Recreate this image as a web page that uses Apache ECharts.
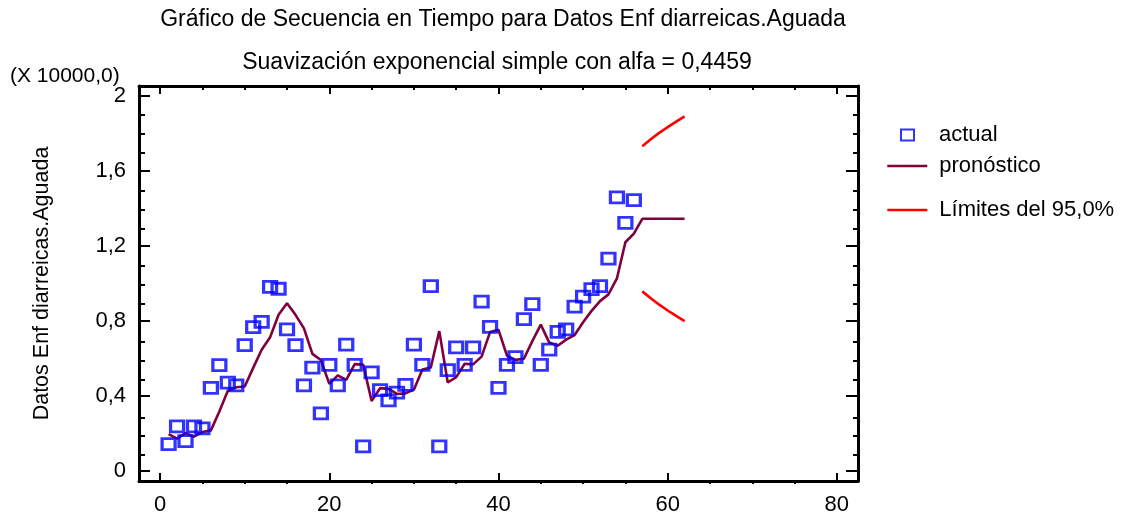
<!DOCTYPE html>
<html>
<head>
<meta charset="utf-8">
<script src="https://cdn.jsdelivr.net/npm/echarts@6/dist/echarts.min.js"></script>
<style>
  html, body { margin: 0; padding: 0; background: #ffffff; }
  #chart { width: 1123px; height: 516px; }
</style>
</head>
<body>
<div id="chart"></div>
<script>
// Time index of the observed series
const periods = [1,2,3,4,5,6,7,8,9,10,11,12,13,14,15,16,17,18,19,20,21,22,23,24,25,26,27,28,
  29,30,31,32,33,34,35,36,37,38,39,40,41,42,43,44,45,46,47,48,49,50,51,52,53,54,55,56];

// Observed values (units of 10000 cases)
const actual = [0.144,0.238,0.159,0.238,0.228,0.444,0.565,0.471,0.457,0.672,0.767,0.795,0.982,0.972,
  0.755,0.672,0.457,0.552,0.308,0.566,0.457,0.674,0.566,0.132,0.526,0.432,0.377,0.418,0.459,0.674,
  0.566,0.986,0.132,0.538,0.660,0.566,0.660,0.903,0.769,0.444,0.566,0.607,0.810,0.890,0.566,0.647,
  0.742,0.755,0.877,0.930,0.970,0.986,1.132,1.459,1.323,1.444];

// Smoothed / forecast line
const forecastPeriods = [1,2,3,4,5,6,7,8,9,10,11,12,13,14,15,16,17,18,19,20,21,22,23,24,25,26,27,28,
  29,30,31,32,33,34,35,36,37,38,39,40,41,42,43,44,45,46,47,48,49,50,51,52,53,54,55,56,57,58,59,60,61,62];
const forecast = [0.197,0.173,0.202,0.183,0.208,0.217,0.318,0.428,0.447,0.451,0.550,0.647,0.713,0.833,
  0.895,0.833,0.761,0.625,0.592,0.465,0.510,0.486,0.570,0.568,0.374,0.442,0.438,0.411,0.414,0.434,
  0.541,0.552,0.746,0.472,0.501,0.572,0.569,0.610,0.741,0.753,0.615,0.593,0.599,0.693,0.781,0.685,
  0.668,0.701,0.725,0.793,0.854,0.906,0.942,1.027,1.220,1.266,1.345,1.345,1.345,1.345,1.345,1.345];

// 95% limits for the forecast horizon
const limitPeriods = [57,58,59,60,61,62];
const upperLimit = [1.732,1.769,1.803,1.834,1.863,1.891];
const lowerLimit = [0.958,0.921,0.887,0.856,0.827,0.799];

// Axis ticks
const xMajorTicks = [0,20,40,60,80];
const xMinorTicks = [5,10,15,25,30,35,45,50,55,65,70,75];
const yMajorTicks = [0,0.4,0.8,1.2,1.6,2];
const yMinorTicks = [0.1,0.2,0.3,0.5,0.6,0.7,0.9,1.0,1.1,1.3,1.4,1.5,1.7,1.8,1.9];

const mainTitle = 'Gráfico de Secuencia en Tiempo para Datos Enf diarreicas.Aguada';
const subTitle = 'Suavización exponencial simple con alfa = 0,4459';
const scaleNote = '(X 10000,0)';
const yName = 'Datos Enf diarreicas.Aguada';

const FONT = "'Liberation Sans', Arial, Helvetica, sans-serif";
const X_RANGE = [-2.5, 82.5];
const Y_RANGE = [-0.053, 2.053];

const pair = (xs, ys) => xs.map((x, i) => [x, ys[i]]);
const commaNum = v => String(Math.round(v * 10) / 10).replace('.', ',');

function xAxisDef(gridIndex, position, ticks, tickLen, withLine, withLabels) {
  return {
    type: 'value', gridIndex, position, min: X_RANGE[0], max: X_RANGE[1],
    axisLine: { show: withLine, onZero: false, lineStyle: { color: '#000', width: 3 } },
    axisTick: { show: true, inside: true, length: tickLen, customValues: ticks,
      lineStyle: { color: '#000', width: 2 } },
    axisLabel: withLabels
      ? { show: true, customValues: ticks, margin: 13, color: '#000', fontSize: 22, fontFamily: FONT }
      : { show: false },
    splitLine: { show: false }
  };
}

function yAxisDef(gridIndex, position, ticks, tickLen, withLine, withLabels) {
  const ax = {
    type: 'value', gridIndex, position, min: Y_RANGE[0], max: Y_RANGE[1],
    axisLine: { show: withLine, onZero: false, lineStyle: { color: '#000', width: 3 } },
    axisTick: { show: true, inside: true, length: tickLen, customValues: ticks,
      lineStyle: { color: '#000', width: 2 } },
    axisLabel: withLabels
      ? { show: true, customValues: ticks, margin: 13, color: '#000', fontSize: 22,
          fontFamily: FONT, formatter: commaNum }
      : { show: false },
    splitLine: { show: false }
  };
  if (withLabels) {
    Object.assign(ax, {
      name: yName, nameLocation: 'middle', nameRotate: 90, nameGap: 86,
      nameTextStyle: { fontSize: 21.5, color: '#000', fontFamily: FONT }
    });
  }
  return ax;
}

const titleStyle = { fontSize: 23, fontWeight: 'normal', color: '#000', fontFamily: FONT };

const option = {
  animation: false,
  backgroundColor: '#ffffff',
  textStyle: { fontFamily: FONT },
  title: [
    { text: mainTitle, left: 503, top: 8, textAlign: 'center', padding: 0, textStyle: titleStyle },
    { text: subTitle, left: 497, top: 51, textAlign: 'center', padding: 0, textStyle: titleStyle },
    { text: scaleNote, left: 10, top: 66, padding: 0,
      textStyle: { fontSize: 21, fontWeight: 'normal', color: '#000', fontFamily: FONT } }
  ],
  legend: [
    {
      data: ['actual'], orient: 'vertical', left: 900, top: 124, padding: 0,
      itemWidth: 13, itemHeight: 11,
      textStyle: { fontSize: 22, color: '#000', fontFamily: FONT, padding: [0, 0, 0, 20] }
    },
    {
      data: ['pronóstico', 'Límites del 95,0%'], orient: 'vertical', left: 886, top: 155, padding: 0,
      itemWidth: 40, itemHeight: 14, itemGap: 22,
      itemStyle: { opacity: 0 },
      lineStyle: { width: 2.6 },
      textStyle: { fontSize: 22, color: '#000', fontFamily: FONT, padding: [0, 0, 0, 7] }
    }
  ],
  grid: [
    { left: 139, right: 265, top: 86, bottom: 32 },
    { left: 139, right: 265, top: 86, bottom: 32 }
  ],
  xAxis: [
    xAxisDef(0, 'bottom', xMajorTicks, 8, true, true),
    xAxisDef(0, 'top', xMajorTicks, 8, true, false),
    xAxisDef(1, 'bottom', xMinorTicks, 4, false, false),
    xAxisDef(1, 'top', xMinorTicks, 4, false, false)
  ],
  yAxis: [
    yAxisDef(0, 'left', yMajorTicks, 11, true, true),
    yAxisDef(0, 'right', yMajorTicks, 12, true, false),
    yAxisDef(1, 'left', yMinorTicks, 6, false, false),
    yAxisDef(1, 'right', yMinorTicks, 5, false, false)
  ],
  series: [
    {
      name: 'pronóstico', type: 'line', xAxisIndex: 0, yAxisIndex: 0,
      data: pair(forecastPeriods, forecast),
      symbol: 'none', lineStyle: { color: '#80003C', width: 2.6 }, itemStyle: { color: '#80003C' },
      z: 2
    },
    {
      name: 'Límites del 95,0%', type: 'line', xAxisIndex: 0, yAxisIndex: 0,
      data: pair(limitPeriods, upperLimit),
      symbol: 'none', lineStyle: { color: '#FF0000', width: 2.6 }, itemStyle: { color: '#FF0000' },
      z: 2
    },
    {
      name: 'Límites del 95,0%', type: 'line', xAxisIndex: 0, yAxisIndex: 0,
      data: pair(limitPeriods, lowerLimit),
      symbol: 'none', lineStyle: { color: '#FF0000', width: 2.6 }, itemStyle: { color: '#FF0000' },
      z: 2
    },
    {
      name: 'actual', type: 'scatter', xAxisIndex: 0, yAxisIndex: 0,
      data: pair(periods, actual),
      symbol: 'rect', symbolSize: [13, 11],
      itemStyle: { color: 'rgba(255,255,255,0)', borderColor: '#0000FF', borderWidth: 3 },
      z: 3
    }
  ]
};

const chart = echarts.init(document.getElementById('chart'), null, { renderer: 'canvas' });
chart.setOption(option);
</script>
</body>
</html>
